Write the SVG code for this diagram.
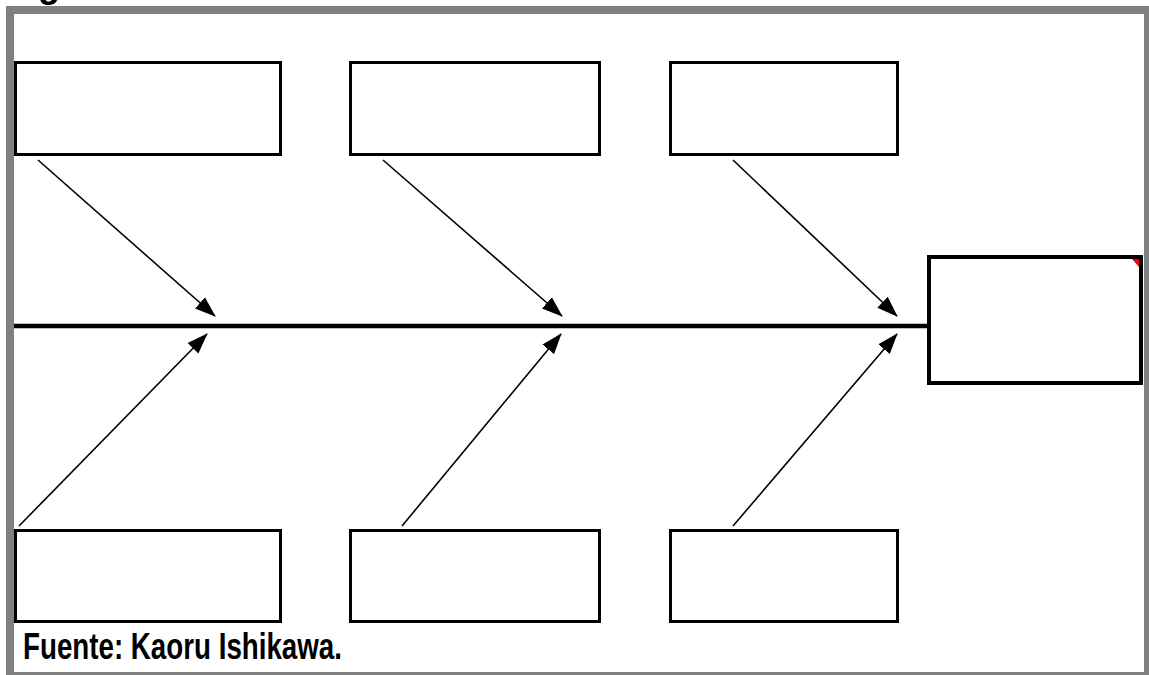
<svg xmlns="http://www.w3.org/2000/svg" width="1149" height="675" viewBox="0 0 1149 675">
<style>
.box{fill:#fff;stroke:#000;stroke-width:3}
.arrow{stroke:#000;stroke-width:1.6;fill:none;marker-end:url(#ah)}
.txt{font-family:"Liberation Sans Narrow","Liberation Sans",Arial,sans-serif;font-weight:bold;font-size:36px;fill:#000}
</style>
<defs>
<marker id="ah" markerUnits="userSpaceOnUse" markerWidth="21" markerHeight="16" refX="20" refY="7.5" orient="auto" viewBox="0 0 21 15">
<path d="M0,0 L21,7.5 L0,15 Z" fill="#000"/>
</marker>
</defs>
<rect x="0" y="0" width="1149" height="675" fill="#fff"/>
<text class="txt" x="6" y="-3">Figura</text>
<rect x="10" y="10" width="1138" height="666" fill="none" stroke="#808080" stroke-width="8"/>
<g id="connectors">
<line x1="14" y1="326" x2="929" y2="326" stroke="#000" stroke-width="4.5"/>
<line class="arrow" x1="38" y1="160" x2="215" y2="316"/>
<line class="arrow" x1="383" y1="160" x2="562" y2="316"/>
<line class="arrow" x1="733" y1="160" x2="897" y2="316"/>
<line class="arrow" x1="19" y1="526" x2="207" y2="334"/>
<line class="arrow" x1="402" y1="526" x2="561" y2="334"/>
<line class="arrow" x1="733" y1="526" x2="897" y2="334"/>
</g>
<g id="cause1"><rect class="box" x="15.5" y="62.5" width="265" height="92"/></g>
<g id="cause2"><rect class="box" x="350.5" y="62.5" width="249" height="92"/></g>
<g id="cause3"><rect class="box" x="670.5" y="62.5" width="227" height="92"/></g>
<g id="cause4"><rect class="box" x="15.5" y="530.5" width="265" height="91"/></g>
<g id="cause5"><rect class="box" x="350.5" y="530.5" width="249" height="91"/></g>
<g id="cause6"><rect class="box" x="670.5" y="530.5" width="227" height="91"/></g>
<g id="effect">
<rect x="929" y="257" width="212" height="126" fill="#fff" stroke="#000" stroke-width="4"/>
<polygon points="1132,259 1139,259 1139,267" fill="#f00"/>
</g>
<text class="txt" x="23" y="659" textLength="319" lengthAdjust="spacingAndGlyphs">Fuente: Kaoru Ishikawa.</text>
</svg>
